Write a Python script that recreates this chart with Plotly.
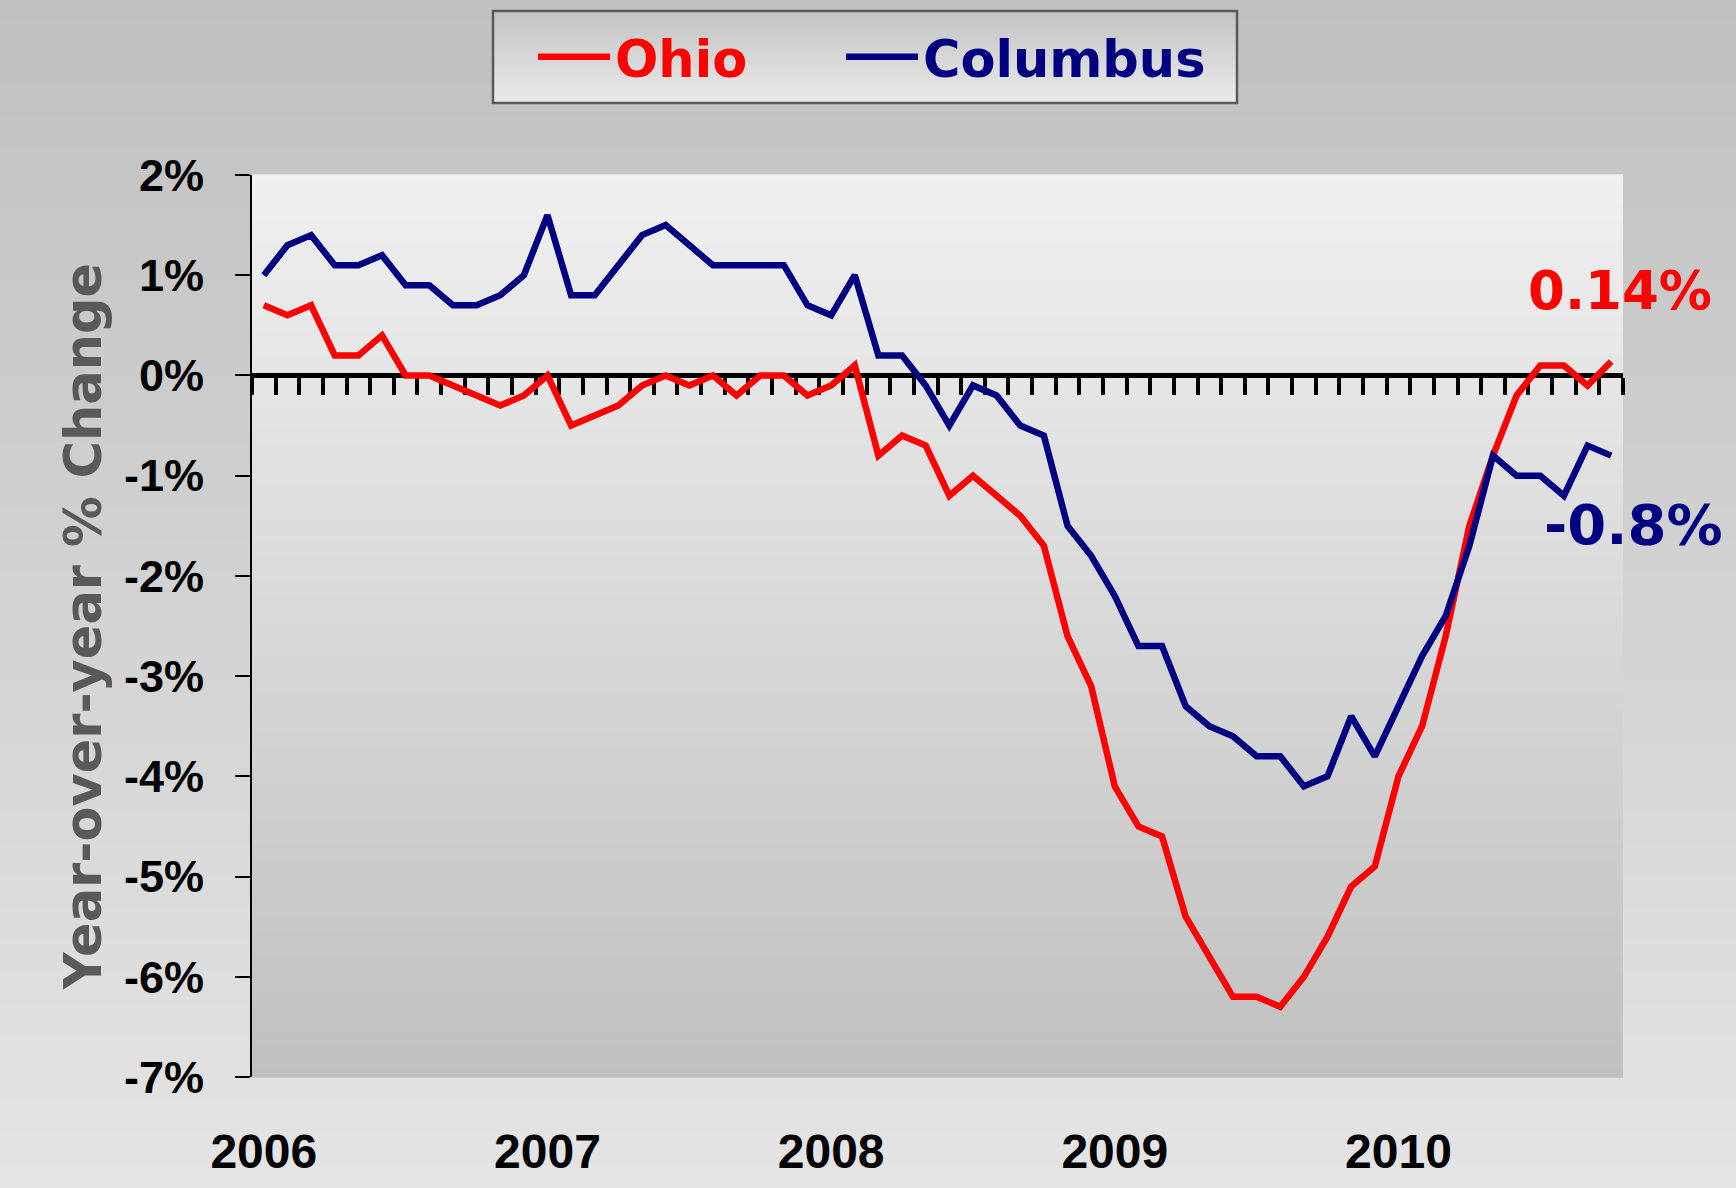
import plotly.graph_objects as go

# ---- data: year-over-year % change, monthly Jan 2006 - Oct 2010 ----
ohio = [
    0.7, 0.6, 0.7, 0.2, 0.2, 0.4, 0.0, 0.0, -0.1, -0.2, -0.3, -0.2,      # 2006
    0.0, -0.5, -0.4, -0.3, -0.1, 0.0, -0.1, 0.0, -0.2, 0.0, 0.0, -0.2,   # 2007
    -0.1, 0.1, -0.8, -0.6, -0.7, -1.2, -1.0, -1.2, -1.4, -1.7, -2.6, -3.1,  # 2008
    -4.1, -4.5, -4.6, -5.4, -5.8, -6.2, -6.2, -6.3, -6.0, -5.6, -5.1, -4.9,  # 2009
    -4.0, -3.5, -2.6, -1.5, -0.8, -0.2, 0.1, 0.1, -0.1, 0.14,            # 2010
]
columbus = [
    1.0, 1.3, 1.4, 1.1, 1.1, 1.2, 0.9, 0.9, 0.7, 0.7, 0.8, 1.0,          # 2006
    1.6, 0.8, 0.8, 1.1, 1.4, 1.5, 1.3, 1.1, 1.1, 1.1, 1.1, 0.7,          # 2007
    0.6, 1.0, 0.2, 0.2, -0.1, -0.5, -0.1, -0.2, -0.5, -0.6, -1.5, -1.8,  # 2008
    -2.2, -2.7, -2.7, -3.3, -3.5, -3.6, -3.8, -3.8, -4.1, -4.0, -3.4, -3.8,  # 2009
    -3.3, -2.8, -2.4, -1.7, -0.8, -1.0, -1.0, -1.2, -0.7, -0.8,          # 2010
]
years = ["2006", "2007", "2008", "2009", "2010"]
y_ticks = [2, 1, 0, -1, -2, -3, -4, -5, -6, -7]
y_tick_text = [f"{v}%" for v in y_ticks]

month_idx = list(range(len(ohio)))
year_pos = [12 * i for i in range(len(years))]

# ---- figure geometry (pixels) ----
W, H = 1736, 1188
ML, MR, MT, MB = 252, 113, 175, 111
PW, PH = W - ML - MR, H - MT - MB

RED = "#FF0000"
NAVY = "#000080"
WIDE_FONT = "DejaVu Sans"
ARIAL = "Liberation Sans, Arial"


def px_x(x):
    return (x - ML) / PW


def px_y(y):
    return 1 - (y - MT) / PH


def gradient(x0, x1, y_top, y_bot, g_top, g_bot, n):
    """Vertical grey gradient built from thin stacked rectangles (paper refs)."""
    bands = []
    for i in range(n):
        t = (i + 0.5) / n
        g = round(g_top + (g_bot - g_top) * t)
        ya = y_top + (y_bot - y_top) * i / n
        yb = y_top + (y_bot - y_top) * (i + 1) / n
        bands.append(dict(
            type="rect", xref="paper", yref="paper", layer="below",
            x0=x0, x1=x1, y0=yb - 0.0008, y1=ya + 0.0008,
            fillcolor=f"rgb({g},{g},{g})", line=dict(width=0),
        ))
    return bands


shapes = []
# whole-figure background
shapes += gradient(px_x(0), px_x(W), px_y(0), px_y(H), 0xC0, 0xE4, 110)
# plot area background
shapes += gradient(0, 1, 1, 0, 0xF0, 0xC0, 120)
# legend panel
LX0, LX1, LY0, LY1 = 493, 1237, 11, 103
shapes += gradient(px_x(LX0), px_x(LX1), px_y(LY0), px_y(LY1), 0xC2, 0xEA, 30)
shapes.append(dict(
    type="rect", xref="paper", yref="paper", layer="below",
    x0=px_x(LX0), x1=px_x(LX1), y0=px_y(LY1), y1=px_y(LY0),
    fillcolor="rgba(0,0,0,0)", line=dict(color="#595959", width=2.5),
))

fig = go.Figure()

# helper trace that carries the zero-line axis with monthly ticks
fig.add_trace(go.Scatter(
    x=[], y=[], xaxis="x2", yaxis="y", showlegend=False, hoverinfo="skip",
))

fig.add_trace(go.Scatter(
    x=month_idx, y=ohio, mode="lines",
    name=f"<span style='color:{RED}'>Ohio</span>" + "&nbsp;" * 5,
    line=dict(color=RED, width=6.5),
    hoverinfo="skip",
))
fig.add_trace(go.Scatter(
    x=month_idx, y=columbus, mode="lines",
    name=f"<span style='color:{NAVY}'>Columbus</span>",
    line=dict(color=NAVY, width=6.5),
    hoverinfo="skip",
))

# end-of-series value labels
fig.add_annotation(
    x=month_idx[-1], y=ohio[-1], xref="x", yref="y",
    text=f"{ohio[-1]:.2f}%", showarrow=False,
    xshift=9, yshift=71,
    font=dict(family=WIDE_FONT, size=53, color=RED, weight="bold"),
)
fig.add_annotation(
    x=month_idx[-1], y=columbus[-1], xref="x", yref="y",
    text=f"{columbus[-1]:.1f}%", showarrow=False,
    xshift=22, yshift=-69,
    font=dict(family=WIDE_FONT, size=56, color=NAVY, weight="bold"),
)

x_range = [-0.5, len(ohio) - 0.5]
y_range = [-7, 2]

fig.update_layout(
    width=W, height=H,
    margin=dict(l=ML, r=MR, t=MT, b=MB, autoexpand=False),
    paper_bgcolor="#d2d2d2",
    plot_bgcolor="rgba(0,0,0,0)",
    shapes=shapes,
    showlegend=True,
    legend=dict(
        orientation="h",
        x=px_x(533), xanchor="left",
        y=px_y((LY0 + LY1) / 2), yanchor="middle",
        bgcolor="rgba(0,0,0,0)", borderwidth=0,
        font=dict(family=WIDE_FONT, size=51, color="black", weight="bold"),
        itemwidth=72,
    ),
    xaxis=dict(
        range=x_range,
        tickmode="array", tickvals=year_pos, ticktext=years,
        ticks="", showline=False, showgrid=False, zeroline=False,
        ticklabelstandoff=42,
        tickfont=dict(family=ARIAL, size=48, color="black", weight="bold"),
    ),
    xaxis2=dict(
        range=x_range, overlaying="x", anchor="free",
        position=(0 - y_range[0]) / (y_range[1] - y_range[0]),
        showline=True, linecolor="black", linewidth=5,
        ticks="outside", tickmode="linear", tick0=-0.5, dtick=1,
        ticklen=17, tickwidth=3.5, tickcolor="black",
        showticklabels=False, showgrid=False, zeroline=False,
        layer="below traces",
    ),
    yaxis=dict(
        range=y_range,
        tickmode="array", tickvals=y_ticks, ticktext=y_tick_text,
        ticks="outside", ticklen=15, tickwidth=2, tickcolor="black",
        showline=True, linecolor="black", linewidth=2,
        showgrid=False, zeroline=False,
        ticklabelstandoff=22,
        tickfont=dict(family=ARIAL, size=45, color="black", weight="bold"),
        title=dict(
            text="Year-over-year % Change", standoff=6,
            font=dict(family=WIDE_FONT, size=51, color="#595959", weight="bold"),
        ),
    ),
)

fig.write_html("out.html")
